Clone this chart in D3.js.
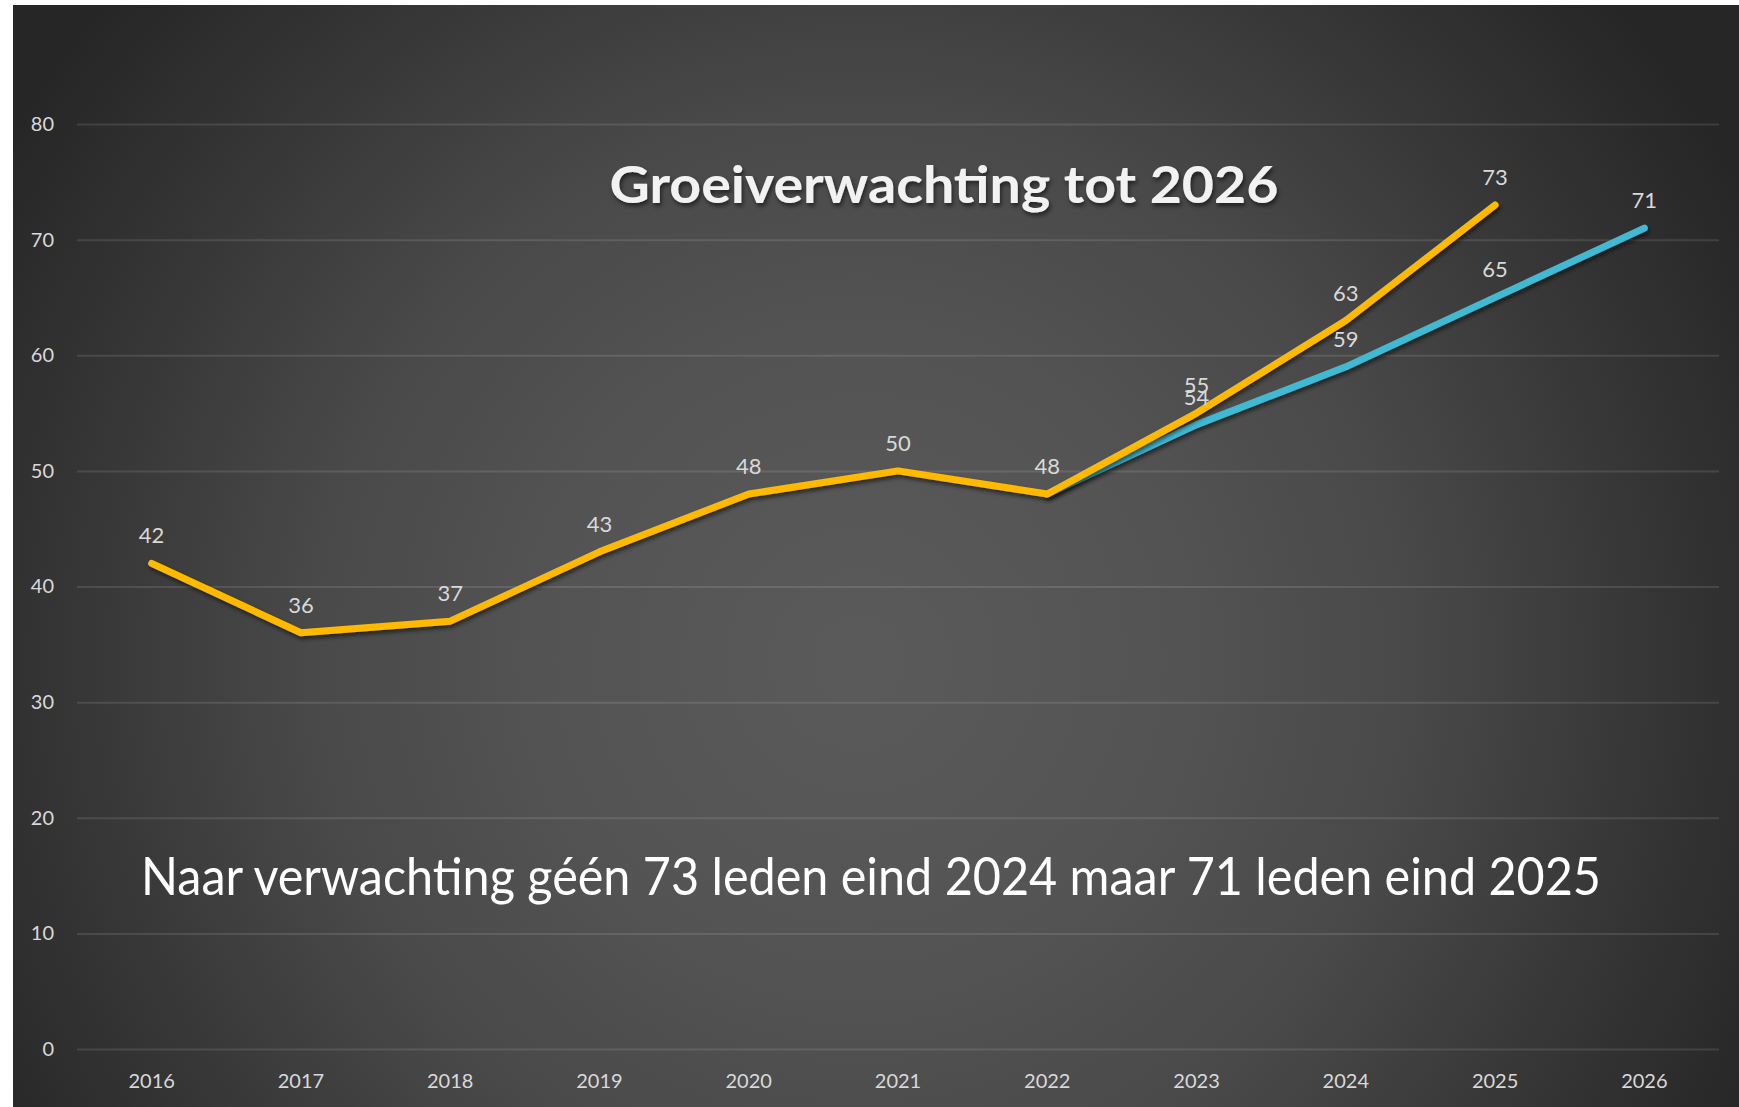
<!DOCTYPE html>
<html>
<head>
<meta charset="utf-8">
<script src="https://cdn.jsdelivr.net/npm/d3@7"></script>
<style>
  html, body { margin: 0; padding: 0; background: #ffffff; }
  svg { display: block; }
</style>
</head>
<body>
<div id="chart"></div>
<script>
// chart data
const years = ["2016", "2017", "2018", "2019", "2020", "2021", "2022", "2023", "2024", "2025", "2026"];
const expected = [42, 36, 37, 43, 48, 50, 48, 55, 63, 73, null];   // gold
const revised  = [null, null, null, null, null, null, 48, 54, 59, 65, 71]; // teal
const yTicks = [0, 10, 20, 30, 40, 50, 60, 70, 80];
const titleText = "Groeiverwachting tot 2026";
const noteText = "Naar verwachting géén 73 leden eind 2024 maar 71 leden eind 2025";

const W = 1739, H = 1107;
const plot = {left: 77, right: 1719, top: 124, bottom: 1049};

const svg = d3.select("#chart")
  .append("svg")
  .attr("width", W)
  .attr("height", H);

const defs = svg.append("defs");

// radial background like the slide
const grad = defs.append("radialGradient")
  .attr("id", "bg")
  .attr("gradientUnits", "userSpaceOnUse")
  .attr("cx", 860).attr("cy", 660).attr("r", 1000);
[[0, "#5a5a5a"], [0.3, "#545454"], [0.55, "#494949"], [0.8, "#353535"], [1, "#262626"]]
  .forEach(s => grad.append("stop").attr("offset", s[0]).attr("stop-color", s[1]));

const shadow = defs.append("filter")
  .attr("id", "shadow")
  .attr("x", "-10%").attr("y", "-10%")
  .attr("width", "120%").attr("height", "130%");
shadow.append("feDropShadow")
  .attr("dx", 1.5).attr("dy", 3)
  .attr("stdDeviation", 2)
  .attr("flood-color", "#000")
  .attr("flood-opacity", 0.55);

svg.append("rect")
  .attr("x", 13).attr("y", 5)
  .attr("width", W - 13).attr("height", H - 5)
  .attr("fill", "url(#bg)");

const x = d3.scaleBand()
  .domain(years)
  .range([plot.left, plot.right]);

const y = d3.scaleLinear()
  .domain([0, 80])
  .range([plot.bottom, plot.top]);

// y axis + gridlines
const yAxis = svg.append("g")
  .attr("transform", `translate(${plot.left},0)`)
  .call(d3.axisLeft(y)
    .tickValues(yTicks)
    .tickSize(-(plot.right - plot.left))
    .tickPadding(23));
yAxis.select(".domain").remove();
yAxis.selectAll(".tick line")
  .attr("stroke", "#ffffff")
  .attr("stroke-opacity", 0.11)
  .attr("stroke-width", 2);
yAxis.selectAll(".tick text")
  .attr("fill", "#d9d9d9")
  .style("font-family", "Lato, 'Open Sans', sans-serif")
  .style("font-size", "20px");

// x axis
const xAxis = svg.append("g")
  .attr("transform", `translate(0,${plot.bottom})`)
  .call(d3.axisBottom(x).tickSize(0).tickPadding(25));
xAxis.select(".domain").remove();
xAxis.selectAll(".tick text")
  .attr("fill", "#d9d9d9")
  .style("font-family", "Lato, 'Open Sans', sans-serif")
  .style("font-size", "20px");

// title and note
svg.append("text")
  .attr("x", 944).attr("y", 203)
  .attr("text-anchor", "middle")
  .attr("textLength", 669)
  .attr("lengthAdjust", "spacingAndGlyphs")
  .attr("fill", "#f2f2f2")
  .attr("filter", "url(#shadow)")
  .style("font-family", "Lato, 'Open Sans', sans-serif")
  .style("font-weight", "bold")
  .style("font-size", "52px")
  .text(titleText);

svg.append("text")
  .attr("x", 141).attr("y", 895)
  .attr("textLength", 1460)
  .attr("lengthAdjust", "spacingAndGlyphs")
  .attr("fill", "#ffffff")
  .style("font-family", "Lato, 'Open Sans', sans-serif")
  .style("font-size", "53px")
  .text(noteText);

// lines
const line = d3.line()
  .defined(d => d.v != null)
  .x(d => x(d.year) + x.bandwidth() / 2)
  .y(d => y(d.v));

const series = [
  {name: "revised", values: revised, color: "#3fb9d3"},
  {name: "expected", values: expected, color: "#ffba00"}
];

series.forEach(s => {
  const pts = years.map((yr, i) => ({year: yr, v: s.values[i]}));
  svg.append("path")
    .datum(pts)
    .attr("d", line)
    .attr("fill", "none")
    .attr("stroke", s.color)
    .attr("stroke-width", 7)
    .attr("stroke-linecap", "round")
    .attr("stroke-linejoin", "round")
    .attr("filter", "url(#shadow)");
});

// data labels (teal only where it differs from gold)
const labels = [];
years.forEach((yr, i) => {
  if (revised[i] != null && revised[i] !== expected[i]) labels.push({year: yr, v: revised[i]});
});
years.forEach((yr, i) => {
  if (expected[i] != null) labels.push({year: yr, v: expected[i]});
});

svg.append("g")
  .selectAll("text")
  .data(labels)
  .join("text")
  .attr("x", d => x(d.year) + x.bandwidth() / 2)
  .attr("y", d => y(d.v) - 20)
  .attr("text-anchor", "middle")
  .attr("fill", "#d9d9d9")
  .style("font-family", "Lato, 'Open Sans', sans-serif")
  .style("font-size", "22px")
  .text(d => d.v);
</script>
</body>
</html>
